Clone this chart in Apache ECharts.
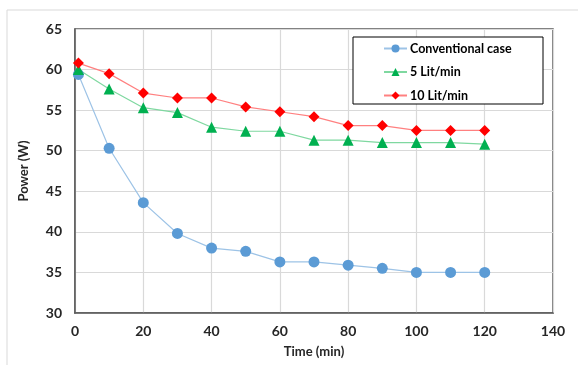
<!DOCTYPE html>
<html>
<head>
<meta charset="utf-8">
<script src="https://cdn.jsdelivr.net/npm/echarts@6/dist/echarts.min.js"></script>
<style>
  html, body { margin: 0; padding: 0; background: #fff; }
  #chart { width: 578px; height: 365px; }
</style>
</head>
<body>
<div id="chart"></div>
<script>
const times = [1, 10, 20, 30, 40, 50, 60, 70, 80, 90, 100, 110, 120];
const conventional = [59.4, 50.3, 43.6, 39.8, 38.0, 37.6, 36.3, 36.3, 35.9, 35.5, 35.0, 35.0, 35.0];
const flow5 = [60.0, 57.6, 55.3, 54.7, 52.9, 52.4, 52.4, 51.3, 51.3, 51.0, 51.0, 51.0, 50.8];
const flow10 = [60.8, 59.5, 57.1, 56.5, 56.5, 55.4, 54.8, 54.2, 53.1, 53.1, 52.5, 52.5, 52.5];

const font = 'Lato, "Open Sans", sans-serif';
const pairs = (ys) => times.map((t, i) => [t, ys[i]]);

const chart = echarts.init(document.getElementById('chart'));
const option = {
  backgroundColor: '#fff',
  animation: false,
  textStyle: { fontFamily: font },
  grid: {
    left: 75, right: 25, top: 29, bottom: 52,
    show: true, borderColor: '#595959', borderWidth: 1.5
  },
  graphic: [
    {
      type: 'rect', z: -1,
      shape: { x: 7, y: 10, width: 620, height: 420 },
      style: { fill: 'none', stroke: '#d9d9d9', lineWidth: 1 }
    },
    {
      type: 'rect', z: 5,
      shape: { x: 353, y: 37, width: 190, height: 67 },
      style: { fill: '#fff', stroke: '#000', lineWidth: 1 }
    }
  ],
  legend: {
    orient: 'vertical',
    left: 383, top: 42,
    z: 10,
    padding: 0,
    itemWidth: 23,
    itemHeight: 10,
    itemGap: 10.5,
    textStyle: { fontFamily: font, fontSize: 12.5, fontWeight: 'bold', color: '#000', padding: [0, 0, 0, -2] },
    data: ['Conventional case', '5 Lit/min', '10 Lit/min']
  },
  xAxis: {
    type: 'value', min: 0, max: 140, interval: 20,
    name: 'Time (min)', nameLocation: 'middle', nameGap: 32,
    nameTextStyle: { fontFamily: font, fontSize: 13, fontWeight: 'bold', color: '#262626' },
    axisLine: { lineStyle: { color: '#595959', width: 1.5 } },
    axisTick: { show: false },
    axisLabel: { fontFamily: font, fontSize: 14, fontWeight: 'bold', color: '#262626', margin: 11 },
    splitLine: { lineStyle: { color: '#d9d9d9', width: 1.2 } }
  },
  yAxis: {
    type: 'value', min: 30, max: 65, interval: 5,
    name: 'Power (W)', nameLocation: 'middle', nameGap: 45, nameRotate: 90,
    nameTextStyle: { fontFamily: font, fontSize: 13, fontWeight: 'bold', color: '#262626' },
    axisLine: { show: true, lineStyle: { color: '#595959', width: 1.5 } },
    axisTick: { show: false },
    axisLabel: { fontFamily: font, fontSize: 14, fontWeight: 'bold', color: '#262626', margin: 13 },
    splitLine: { lineStyle: { color: '#d9d9d9', width: 1.2 } }
  },
  series: [
    {
      name: 'Conventional case', type: 'line', data: pairs(conventional),
      symbol: 'circle', symbolSize: 11,
      itemStyle: { color: '#5b9bd5' },
      lineStyle: { color: '#9dc3e6', width: 1.2 }
    },
    {
      name: '5 Lit/min', type: 'line', data: pairs(flow5),
      symbol: 'triangle', symbolSize: 11,
      itemStyle: { color: '#00b050' },
      lineStyle: { color: '#7fd8a0', width: 1.2 }
    },
    {
      name: '10 Lit/min', type: 'line', data: pairs(flow10),
      symbol: 'diamond', symbolSize: 11,
      itemStyle: { color: '#ff0000' },
      lineStyle: { color: '#ff8080', width: 1.2 }
    }
  ]
};
option && chart.setOption(option);
</script>
</body>
</html>
